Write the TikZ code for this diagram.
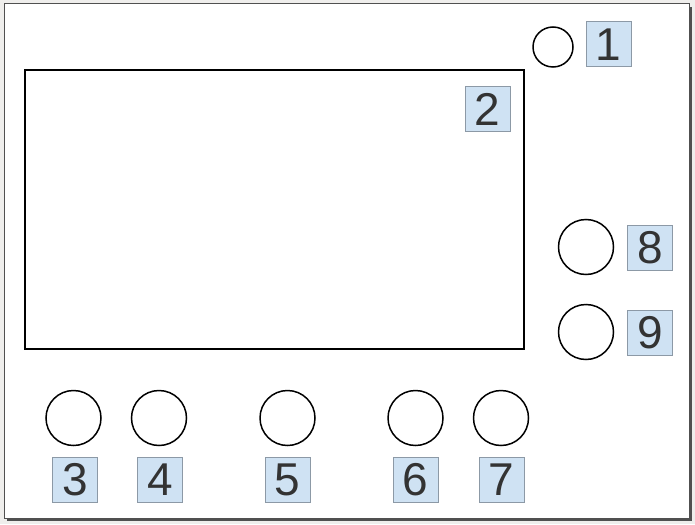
\documentclass[tikz,border=0pt]{standalone}
\usepackage{fontspec}
\setmainfont{Liberation Sans}
\definecolor{bgout}{HTML}{EFEEEC}
\definecolor{shadowc}{HTML}{505050}
\definecolor{lblfill}{HTML}{CFE2F3}
\definecolor{lbldraw}{HTML}{8C99A6}
\definecolor{lbltext}{HTML}{333333}
\begin{document}
\begin{tikzpicture}[x=1pt,y=-1pt,
  lbl/.style={draw=lbldraw, line width=1pt, fill=lblfill, text=lbltext, minimum width=45pt, minimum height=45pt, inner sep=0pt, font=\fontsize{46}{46}\selectfont},
  port/.style={draw=black, line width=1.5pt, circle, inner sep=0pt, fill=white},
  mainrect/.style={draw=black, line width=2pt, fill=white}]
\useasboundingbox (0,0) rectangle (695,524);
\fill[bgout] (0,0) rectangle (695,524);
\fill[shadowc] (7,7) rectangle (692,521);
\filldraw[fill=white, draw=shadowc, line width=1pt] (4,4) rectangle (689,518);
\node[mainrect, minimum width=499pt, minimum height=279pt, inner sep=0pt] (screen) at (274.5,209.5) {};
\node[port, minimum size=40pt] (c1) at (553,47) {};
\node[port, minimum size=55pt] (c8) at (586,247) {};
\node[port, minimum size=55pt] (c9) at (586,332) {};
\node[port, minimum size=55pt] (c3) at (73.5,418) {};
\node[port, minimum size=55pt] (c4) at (159,418) {};
\node[port, minimum size=55pt] (c5) at (287.5,418) {};
\node[port, minimum size=55pt] (c6) at (415.5,418) {};
\node[port, minimum size=55pt] (c7) at (501,418) {};
\node[lbl] (l1) at (608.5,44.5) {1};
\node[lbl] (l2) at (487.5,109) {2};
\node[lbl] (l8) at (650,247.5) {8};
\node[lbl] (l9) at (650,333) {9};
\node[lbl] (l3) at (75,480) {3};
\node[lbl] (l4) at (160,480) {4};
\node[lbl] (l5) at (287.5,480) {5};
\node[lbl] (l6) at (415.5,480) {6};
\node[lbl] (l7) at (501.5,480) {7};
\end{tikzpicture}
\end{document}
